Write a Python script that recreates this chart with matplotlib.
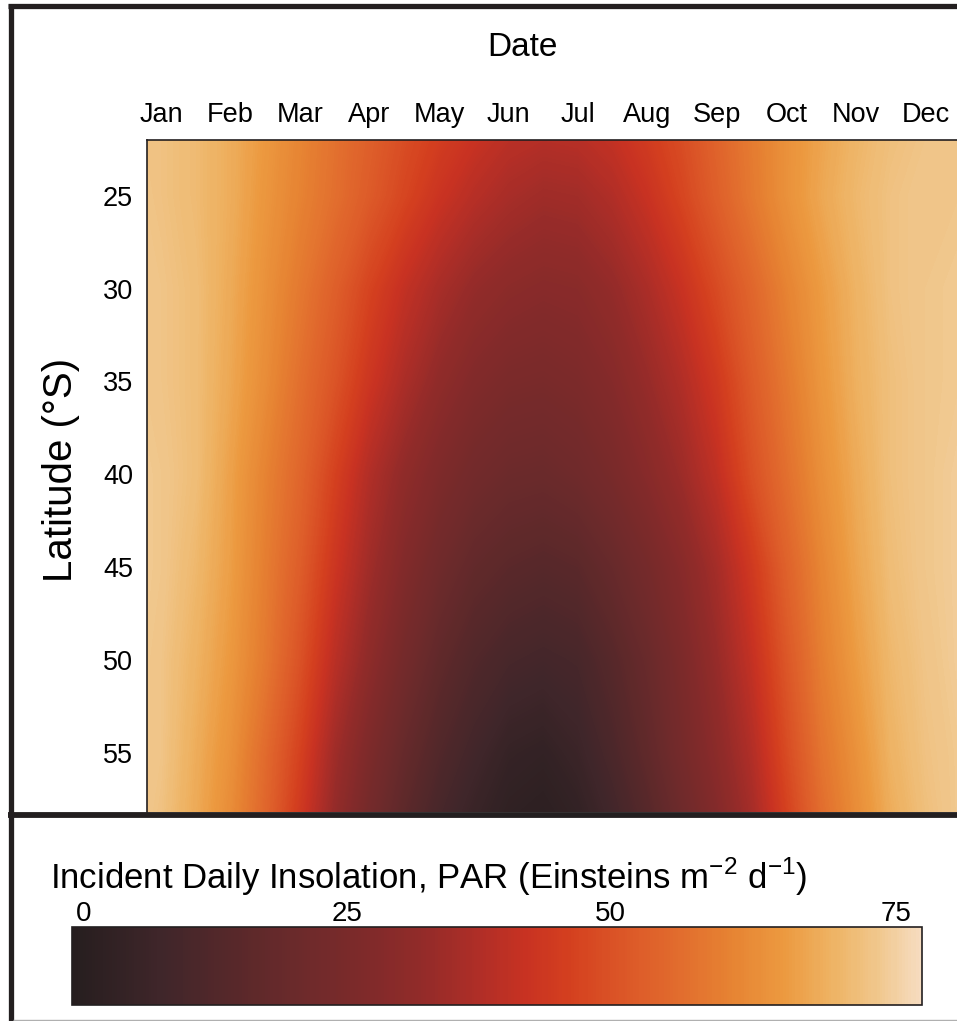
import numpy as np
import matplotlib.pyplot as plt
from matplotlib.colors import LinearSegmentedColormap
from matplotlib.lines import Line2D

plt.rcParams['font.family'] = ['Liberation Sans', 'DejaVu Sans']

# Date axis in month units (label of month i sits at i + 0.5)
months = ['Jan', 'Feb', 'Mar', 'Apr', 'May', 'Jun', 'Jul', 'Aug', 'Sep', 'Oct', 'Nov', 'Dec']
date_nodes = np.arange(0, 12.01, 0.5)
lat_nodes = [22, 25, 30, 35, 40, 45, 50, 55, 58.2]

# Incident daily PAR (Einsteins m-2 d-1), one row per latitude
par_22 = [70.5, 70, 68.5, 66, 62.5, 58.5, 54.5, 50.5, 46.5, 43, 40, 37.5, 36.5, 37, 39, 42.5, 46.5, 51.5, 56.5, 61, 64.5, 67.5, 69.5, 70.5, 70.5]
par_25 = [71, 70, 68.5, 66, 62, 58, 54, 49.5, 45, 40.5, 37, 34.5, 33, 33.5, 36, 40, 45, 50.5, 56, 61, 65, 68, 70, 71, 71]
par_30 = [71, 70.5, 69, 65.5, 61, 56, 50.5, 44.5, 39, 34.5, 31, 29, 28, 28.5, 31, 35, 40, 46, 52, 58, 63, 67, 70, 71, 71.5]
par_35 = [71.5, 70.5, 69, 65, 60, 54, 48, 41, 35, 30, 26.5, 24.5, 24, 25, 27.5, 31.5, 36, 42, 49.5, 56, 62, 66.5, 69.5, 71, 71.5]
par_40 = [72, 71, 69, 64, 58, 52, 44, 36, 30, 25.5, 22, 20, 19.5, 21, 24, 28, 32.5, 38.5, 47, 54, 60.5, 65.5, 69.5, 71, 72]
par_45 = [72, 71, 68, 63.5, 57, 50, 41, 33, 26.5, 21, 17, 15, 14, 15, 18.5, 23, 28, 34, 42, 51, 58.5, 64.5, 69, 71, 72]
par_50 = [72, 70.5, 67, 62.5, 56, 47.5, 37.5, 29.5, 22.5, 16.5, 12.5, 10, 9, 10, 14, 19, 25, 31.5, 39, 48.5, 57, 63, 68, 70.5, 72]
par_55 = [72, 70.5, 66, 61, 53, 44, 33, 25, 18, 12.5, 8.5, 5, 4, 6.5, 11, 16.5, 23, 29, 36, 46, 55, 61, 67, 70, 71.5]
par_58 = [72, 70, 65.5, 60, 52, 42, 31, 22.5, 15.5, 10, 6, 3, 2, 4, 8.5, 14, 20.5, 27, 34, 44, 53.5, 60, 66, 69.5, 71.5]

par = np.array([par_22, par_25, par_30, par_35, par_40, par_45, par_50, par_55, par_58])

lat_ticks = [25, 30, 35, 40, 45, 50, 55]
cbar_labels = ['0', '25', '50', '75']

# colour ramp taken from the legend bar
stops = [(0, '#261e1f'), (8, '#40262a'), (14, '#57282a'), (20, '#6c2a2b'), (26, '#7f2a2a'),
         (31, '#932b29'), (36, '#b02e27'), (40, '#c83222'), (44, '#d4401f'), (49, '#dc5828'),
         (54, '#e26e2e'), (58, '#e68232'), (63, '#ec9a40'), (67, '#eeb262'), (71, '#f0c68a'),
         (75, '#f6dcc0')]
cmap = LinearSegmentedColormap.from_list('par', [(v / 75, c) for v, c in stops])

W, H = 957, 1021
fig = plt.figure(figsize=(W / 100, H / 100), dpi=100)
dark = '#231f20'

ax = fig.add_axes([147 / W, 1 - 812 / H, (W - 147) / W, (812 - 140) / H])
X, Y = np.meshgrid(date_nodes, lat_nodes)
cs = ax.contourf(X, Y, par, levels=np.linspace(0, 75, 301), cmap=cmap, vmin=0, vmax=75,
                 antialiased=False)
ax.set_xlim(0.3, 11.95)
ax.set_ylim(58.2, 22)
ax.xaxis.tick_top()
ax.set_xticks(np.arange(12) + 0.5)
ax.set_xticklabels(months, fontsize=19.5)
ax.set_yticks(lat_ticks)
ax.set_yticklabels([str(t) for t in lat_ticks], fontsize=19.5)
ax.tick_params(axis='both', length=0)
ax.tick_params(axis='x', pad=8.5)
ax.tick_params(axis='y', pad=10)
for s in ['right', 'bottom']:
    ax.spines[s].set_visible(False)
for s in ['left', 'top']:
    ax.spines[s].set_color(dark)
    ax.spines[s].set_linewidth(1.2)

fig.text(522 / W, 1 - 48 / H, 'Date', fontsize=24, ha='center', va='center')
fig.text(61 / W, 1 - 470 / H, 'Latitude (°S)', fontsize=29, rotation=90, ha='center', va='center')

# legend bar
cax = fig.add_axes([72 / W, 1 - 1005 / H, 850 / W, 78 / H])
cb = fig.colorbar(cs, cax=cax, orientation='horizontal')
cb.set_ticks([1, 24.3, 47.5, 72.7])
cb.set_ticklabels(cbar_labels)
cax.xaxis.set_ticks_position('top')
cax.tick_params(length=0, labelsize=20, pad=0)
cb.outline.set_edgecolor(dark)
cb.outline.set_linewidth(1.2)
fig.text(50 / W, 1 - 877 / H,
         'Incident Daily Insolation, PAR (Einsteins m$^{\\mathregular{-2}}$ d$^{\\mathregular{-1}}$)',
         fontsize=25, ha='left', va='center')

# panel frame lines
def px_line(x0, y0, x1, y1, lw, color):
    fig.add_artist(Line2D([x0 / W, x1 / W], [1 - y0 / H, 1 - y1 / H], lw=lw, color=color,
                          solid_capstyle='butt'))

px_line(8, 6.5, W, 6.5, 3.8, dark)
px_line(10.5, 4, 10.5, H, 3.8, dark)
px_line(8, 815, W, 815, 4.2, dark)
px_line(13, 1019.5, W, 1019.5, 1.0, '#b0b0b0')

fig.savefig('out.png', dpi=100)
